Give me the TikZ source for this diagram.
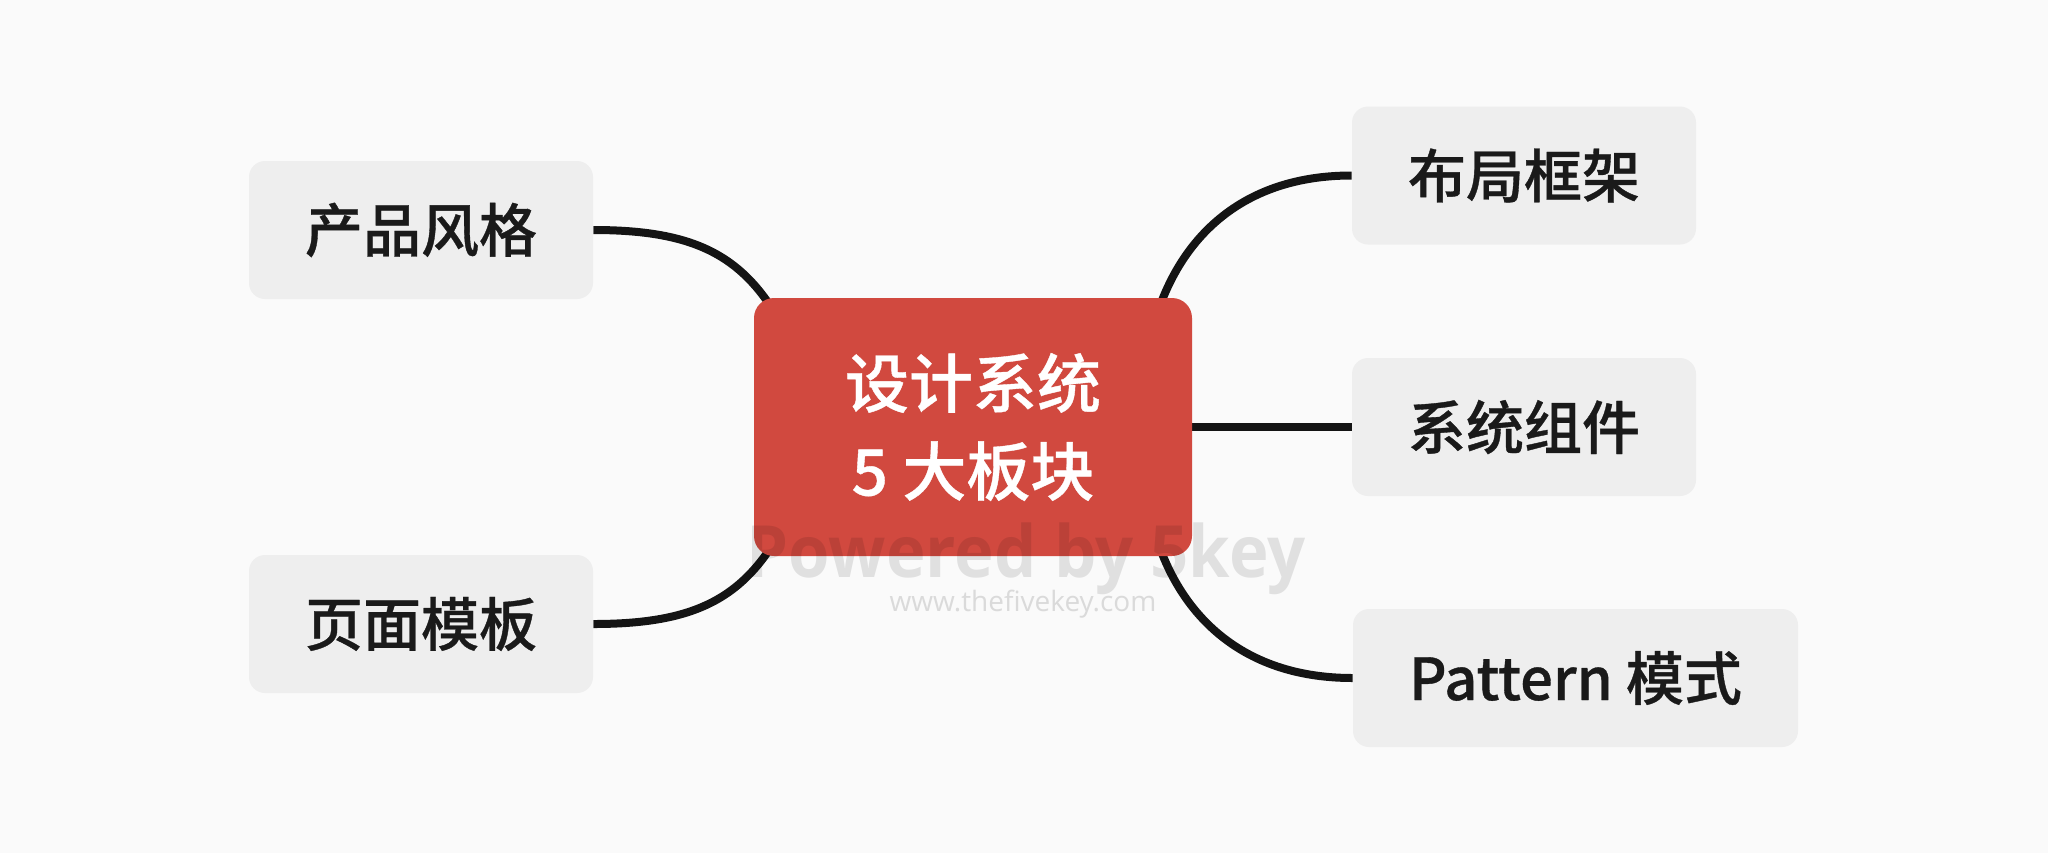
\documentclass[tikz,border=0pt]{standalone}
\usepackage{fontspec}
\usepackage{graphicx}
\newfontfamily\cjk{Noto Sans CJK SC Medium}[FakeBold=0.6]
\newfontfamily\wmfont{Open Sans}
\usetikzlibrary{backgrounds}
\definecolor{bgc}{HTML}{FAFAFA}
\definecolor{leafc}{HTML}{EEEEEE}
\definecolor{redc}{HTML}{D1493F}
\definecolor{textc}{HTML}{1A1A1A}
\definecolor{linec}{HTML}{141414}
\definecolor{wwwc}{HTML}{DADADA}
\begin{document}
\begin{tikzpicture}[x=0.5pt,y=-0.5pt,
  leaf/.style={fill=leafc, rounded corners=8pt, inner sep=0pt, minimum width=172pt, minimum height=69pt, text=textc, font=\cjk\fontsize{29}{34}\selectfont},
  hub/.style={fill=redc, rounded corners=10pt, inner sep=0pt, minimum width=219pt, minimum height=129pt, text=white, align=center, font=\cjk\fontsize{32}{44}\selectfont},
  link/.style={line width=4pt, draw=linec},
  wm/.style={inner sep=0pt, anchor=base}]
\useasboundingbox (0,0) rectangle (2048,853);

\node[hub] (c) at (973,427) {设计系统\\5 大板块};
\node[leaf] (pf) at (421,230) {产品风格};
\node[leaf] (ym) at (421,624) {页面模板};
\node[leaf] (bj) at (1524,175.5) {布局框架};
\node[leaf] (xt) at (1524,427) {系统组件};
\node[leaf, minimum width=222.5pt] (pt) at (1575.5,678) {Pattern 模式};

\coordinate (e1) at (790,340);
\coordinate (e2) at (790,514);
\coordinate (e3) at (1150,340);
\coordinate (e4) at (1150,514);

\begin{pgfonlayer}{background}
\fill[bgc] (0,0) rectangle (2048,853);
\draw[link] (pf.east) .. controls +(110,0) and +(-40,-80) .. (e1);
\draw[link] (ym.east) .. controls +(110,0) and +(-40,80) .. (e2);
\draw[link] (bj.west) .. controls +(-120,0) and +(20,-90) .. (e3);
\draw[link] (pt.west) .. controls +(-120,0) and +(20,90) .. (e4);
\draw[link] (c.east) -- (xt.west);
\end{pgfonlayer}

\node[wm, text=black, opacity=0.1] (wm1) at (1026,577) {\scalebox{0.93}[1]{\wmfont\bfseries\fontsize{36}{40}\selectfont Powered by 5key}};
\node[wm, text=wwwc] (wm2) at (1023,611) {\wmfont\fontsize{14}{16}\selectfont www.thefivekey.com};
\end{tikzpicture}
\end{document}
